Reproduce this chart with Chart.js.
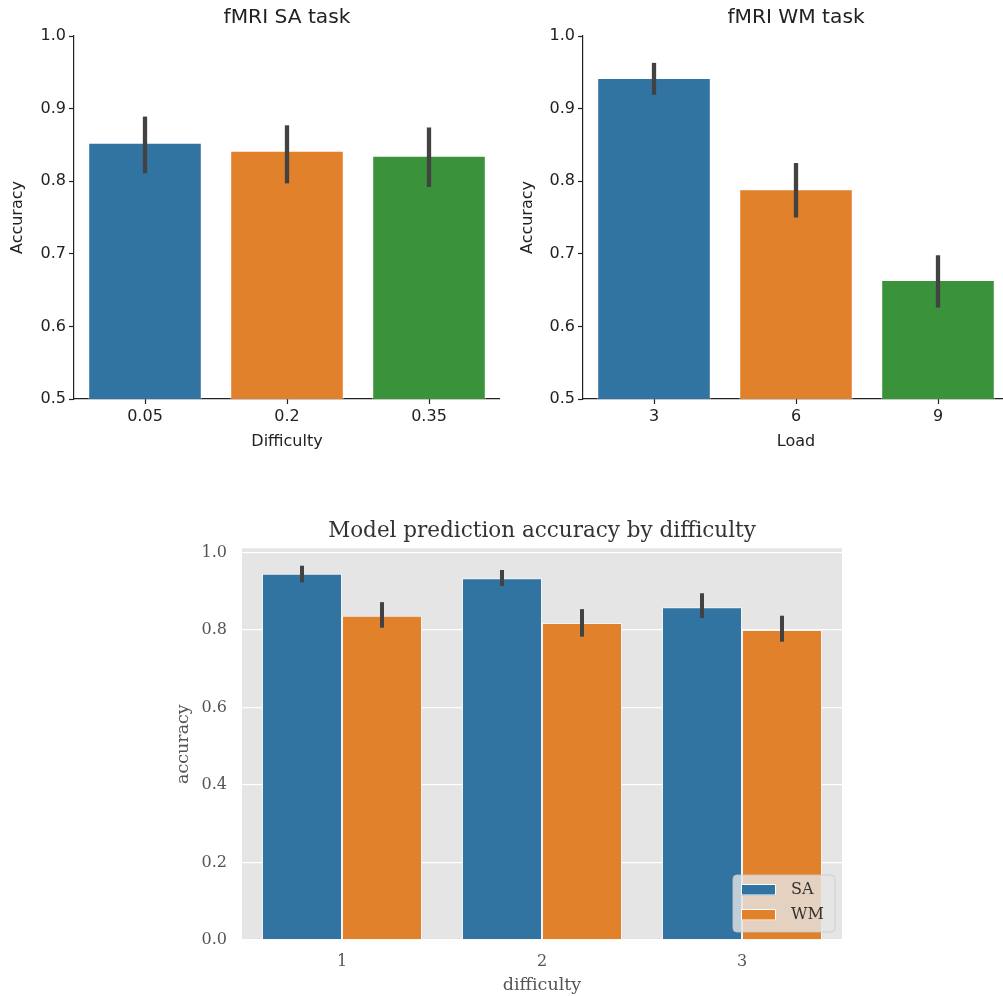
<!DOCTYPE html>
<html>
<head>
<meta charset="utf-8">
<title>Accuracy by difficulty</title>
<script src="https://cdn.jsdelivr.net/npm/chart.js@4.4.1/dist/chart.umd.min.js"></script>
<style>
  html, body { margin: 0; padding: 0; background: #fff; overflow: hidden; width: 1003px; height: 996px; }
  canvas { position: absolute; }
</style>
</head>
<body>
<canvas id="saChart" width="500" height="460" style="left:0px;top:0px"></canvas>
<canvas id="wmChart" width="509" height="460" style="left:500px;top:0px"></canvas>
<canvas id="modelChart" width="700" height="491" style="left:160px;top:505px"></canvas>
<script>
// fMRI SA task: mean accuracy per difficulty level, with 95% CI
const saDifficulty = ['0.05', '0.2', '0.35'];
const saAccuracy = [0.853, 0.842, 0.835];
const saCiLow = [0.811, 0.797, 0.792];
const saCiHigh = [0.889, 0.877, 0.874];

// fMRI WM task: mean accuracy per memory load, with 95% CI
const wmLoad = ['3', '6', '9'];
const wmAccuracy = [0.942, 0.789, 0.664];
const wmCiLow = [0.919, 0.750, 0.626];
const wmCiHigh = [0.963, 0.825, 0.698];

// Model prediction accuracy by difficulty, SA vs WM
const modelDifficulty = ['1', '2', '3'];
const modelSA = [0.945, 0.934, 0.859];
const modelSALow = [0.923, 0.914, 0.831];
const modelSAHigh = [0.966, 0.955, 0.895];
const modelWM = [0.837, 0.818, 0.800];
const modelWMLow = [0.806, 0.783, 0.770];
const modelWMHigh = [0.872, 0.854, 0.837];

// Tick values
const fmriTicks = [0.5, 0.6, 0.7, 0.8, 0.9, 1.0];
const modelTicks = [0.0, 0.2, 0.4, 0.6, 0.8, 1.0];

const palette = ['#3274a1', '#e1812c', '#3a923a'];

// Vertical confidence-interval lines on every bar
const errorBars = {
  id: 'errorBars',
  afterDatasetsDraw(chart, args, opts) {
    const ctx = chart.ctx;
    const y = chart.scales.y;
    chart.data.datasets.forEach((ds, i) => {
      if (!ds.ciLow) return;
      const meta = chart.getDatasetMeta(i);
      meta.data.forEach((bar, j) => {
        ctx.save();
        ctx.strokeStyle = opts.color || '#424242';
        ctx.lineWidth = opts.width || 4;
        ctx.lineCap = 'butt';
        ctx.beginPath();
        ctx.moveTo(bar.x, y.getPixelForValue(ds.ciLow[j]));
        ctx.lineTo(bar.x, y.getPixelForValue(ds.ciHigh[j]));
        ctx.stroke();
        ctx.restore();
      });
    });
  }
};

// Grey panel behind the plot area
const panelBackground = {
  id: 'panelBackground',
  beforeDraw(chart, args, opts) {
    const { ctx, chartArea: a } = chart;
    ctx.save();
    ctx.fillStyle = opts.color;
    ctx.fillRect(a.left, a.top, a.right - a.left, a.bottom - a.top);
    ctx.restore();
  }
};

// Framed legend in the lower-right corner of the plot area
const boxLegend = {
  id: 'boxLegend',
  afterDraw(chart) {
    const { ctx, chartArea: a } = chart;
    const w = 102, h = 57;
    const x = a.right - 7 - w, y = a.bottom - 8 - h, r = 4;
    ctx.save();
    ctx.beginPath();
    ctx.moveTo(x + r, y);
    ctx.lineTo(x + w - r, y);
    ctx.quadraticCurveTo(x + w, y, x + w, y + r);
    ctx.lineTo(x + w, y + h - r);
    ctx.quadraticCurveTo(x + w, y + h, x + w - r, y + h);
    ctx.lineTo(x + r, y + h);
    ctx.quadraticCurveTo(x, y + h, x, y + h - r);
    ctx.lineTo(x, y + r);
    ctx.quadraticCurveTo(x, y, x + r, y);
    ctx.closePath();
    ctx.fillStyle = 'rgba(229,229,229,0.8)';
    ctx.fill();
    ctx.strokeStyle = 'rgba(200,200,200,0.8)';
    ctx.lineWidth = 1;
    ctx.stroke();
    chart.data.datasets.forEach((ds, i) => {
      const ry = y + 9 + i * 25;
      ctx.fillStyle = ds.backgroundColor;
      ctx.fillRect(x + 8, ry, 35, 11.5);
      ctx.strokeStyle = '#ffffff';
      ctx.strokeRect(x + 8.5, ry + 0.5, 34, 10.5);
      ctx.fillStyle = '#333333';
      ctx.font = '16px "DejaVu Serif"';
      ctx.textBaseline = 'middle';
      ctx.textAlign = 'left';
      ctx.fillText(ds.label, x + 58, ry + 6);
    });
    ctx.restore();
  }
};

const sansFont = (size) => ({ family: '"DejaVu Sans", sans-serif', size: size, weight: 'normal' });
const serifFont = (size) => ({ family: '"DejaVu Serif", serif', size: size, weight: 'normal' });

function fmriChart(id, title, xTitle, labels, values, lo, hi, yWidth, yTitlePad) {
  const ink = '#222222';
  return new Chart(document.getElementById(id), {
    type: 'bar',
    data: {
      labels: labels,
      datasets: [{
        data: values,
        ciLow: lo,
        ciHigh: hi,
        backgroundColor: palette,
        borderColor: 'rgba(255,255,255,0.5)',
        borderWidth: 1,
        categoryPercentage: 0.8,
        barPercentage: 1.0
      }]
    },
    options: {
      responsive: false,
      animation: false,
      devicePixelRatio: 1,
      layout: { padding: 0 },
      plugins: {
        legend: { display: false },
        tooltip: { enabled: false },
        title: {
          display: true, text: title, fullSize: false, color: ink,
          font: sansFont(20.2), padding: { top: 6, bottom: 5.76 }
        },
        errorBars: { width: 4.3, color: '#424242' }
      },
      scales: {
        x: {
          grid: { display: true, drawOnChartArea: false, offset: false, tickLength: 5, tickColor: ink, tickWidth: 1.2 },
          border: { display: true, color: ink, width: 1.2 },
          ticks: { color: ink, padding: 3, font: sansFont(16) },
          title: { display: true, text: xTitle, color: ink, font: sansFont(16), padding: { top: 0, bottom: 8.7 } },
          afterFit(s) { s.height = 61; }
        },
        y: {
          min: 0.5, max: 1.0,
          afterBuildTicks(s) { s.ticks = fmriTicks.map(v => ({ value: v })); },
          grid: { display: true, drawOnChartArea: false, tickLength: 5, tickColor: ink, tickWidth: 1.2 },
          border: { display: true, color: ink, width: 1.2 },
          ticks: { color: ink, padding: 3, font: sansFont(16), callback: (v) => Number(v).toFixed(1) },
          title: { display: true, text: 'Accuracy', color: ink, font: sansFont(16), padding: { top: yTitlePad, bottom: 0 } },
          afterFit(s) { s.width = yWidth; }
        }
      }
    },
    plugins: [errorBars]
  });
}

fmriChart('saChart', 'fMRI SA task', 'Difficulty', saDifficulty, saAccuracy, saCiLow, saCiHigh, 74, 8.7);
fmriChart('wmChart', 'fMRI WM task', 'Load', wmLoad, wmAccuracy, wmCiLow, wmCiHigh, 83, 18.7);

new Chart(document.getElementById('modelChart'), {
  type: 'bar',
  data: {
    labels: modelDifficulty,
    datasets: [
      {
        label: 'SA', data: modelSA, ciLow: modelSALow, ciHigh: modelSAHigh,
        backgroundColor: palette[0], borderColor: '#f4f4f4', borderWidth: 1,
        categoryPercentage: 0.8, barPercentage: 1.0
      },
      {
        label: 'WM', data: modelWM, ciLow: modelWMLow, ciHigh: modelWMHigh,
        backgroundColor: palette[1], borderColor: '#f4f4f4', borderWidth: 1,
        categoryPercentage: 0.8, barPercentage: 1.0
      }
    ]
  },
  options: {
    responsive: false,
    animation: false,
    devicePixelRatio: 1,
    layout: { padding: { right: 18 } },
    plugins: {
      legend: { display: false },
      tooltip: { enabled: false },
      title: {
        display: true, text: 'Model prediction accuracy by difficulty', fullSize: false,
        color: '#333333', font: serifFont(21.5), padding: { top: 13.1, bottom: 4.4 }
      },
      panelBackground: { color: '#e5e5e5' },
      errorBars: { width: 4, color: '#424242' }
    },
    scales: {
      x: {
        grid: { display: false, drawTicks: false },
        border: { display: false },
        ticks: { color: '#555555', padding: 12, font: serifFont(16) },
        title: { display: true, text: 'difficulty', color: '#555555', font: serifFont(17.5), padding: { top: 0, bottom: 0.5 } },
        afterFit(s) { s.height = 56; }
      },
      y: {
        min: 0, max: 1.011,
        afterBuildTicks(s) { s.ticks = modelTicks.map(v => ({ value: v })); },
        grid: { display: true, drawOnChartArea: true, drawTicks: false, color: '#ffffff', lineWidth: 1.3 },
        border: { display: false },
        ticks: { color: '#555555', padding: 15, font: serifFont(16), callback: (v) => Number(v).toFixed(1) },
        title: { display: true, text: 'accuracy', color: '#555555', font: serifFont(17.5), padding: { top: 12.5, bottom: 0 } },
        afterFit(s) { s.width = 82; }
      }
    }
  },
  plugins: [panelBackground, errorBars, boxLegend]
});
</script>
</body>
</html>
